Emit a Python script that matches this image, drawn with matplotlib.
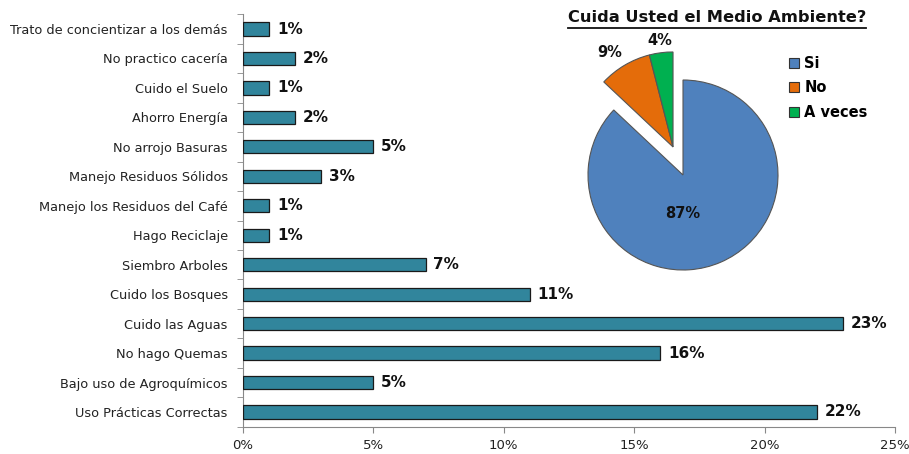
import matplotlib
matplotlib.use("Agg")
import matplotlib.pyplot as plt
import numpy as np
from matplotlib.lines import Line2D
from matplotlib.patches import Patch

categories = ["Trato de concientizar a los demás", "No practico cacería", "Cuido el Suelo",
              "Ahorro Energía", "No arrojo Basuras", "Manejo Residuos Sólidos",
              "Manejo los Residuos del Café", "Hago Reciclaje", "Siembro Arboles",
              "Cuido los Bosques", "Cuido las Aguas", "No hago Quemas",
              "Bajo uso de Agroquímicos", "Uso Prácticas Correctas"]
values = [1, 2, 1, 2, 5, 3, 1, 1, 7, 11, 23, 16, 5, 22]
xticks = [0, 5, 10, 15, 20, 25]

pie_title = "Cuida Usted el Medio Ambiente?"
pie_labels = ["Si", "No", "A veces"]
pie_values = [87, 9, 4]
pie_colors = ["#4F81BD", "#E46C0A", "#00B050"]

plt.rcParams['font.family'] = ['DejaVu Sans']
W, H = 909, 454
fig = plt.figure(figsize=(W/100, H/100), dpi=100)

# ---- bar chart ----
ax = fig.add_axes([243/W, 1-426.7/H, (895-243)/W, (426.7-14.3)/H])
n = len(categories)
y = np.arange(n)
ax.barh(y, values, height=0.45, color="#31859C", edgecolor="#1a1a1a", linewidth=0.9, zorder=3)
ax.set_ylim(n-0.5, -0.5)
ax.set_xlim(0, 25)
ax.set_yticks(y)
ax.set_yticklabels(categories, fontsize=9.3, color="#222222")
ax.set_yticks(np.arange(-0.5, n, 1), minor=True)
ax.tick_params(axis='y', which='major', length=0, pad=11)
ax.tick_params(axis='y', which='minor', length=4, color="#888888", direction='out')
ax.set_xticks(xticks)
ax.set_xticklabels([f"{t}%" for t in xticks], fontsize=9.5, color="#222222")
ax.tick_params(axis='x', length=4, color="#888888", direction='out', pad=5)
for s in ["top", "right"]:
    ax.spines[s].set_visible(False)
for s in ["left", "bottom"]:
    ax.spines[s].set_color("#888888")
for yi, v in zip(y, values):
    ax.text(v + 0.3, yi, f"{v}%", va="center", ha="left", fontsize=11, fontweight="bold", color="#111111")

# ---- pie chart ----
R = 95.0
cx, cy = 683, 175
half = 150
pax = fig.add_axes([(cx-half)/W, 1-(cy+half)/H, 2*half/W, 2*half/H])
wedges, _ = pax.pie(pie_values, colors=pie_colors, startangle=90, counterclock=False,
                    radius=1, wedgeprops=dict(edgecolor="#555555", linewidth=0.8))
lim = half / R
pax.set_xlim(-lim, lim)
pax.set_ylim(-lim, lim)
pax.axis('off')
off = np.array([-0.105, 0.295])
for w in wedges[1:]:
    w.set_center(tuple(off))
label_dist = [None, 1.2, 1.13]
for i, (w, v) in enumerate(zip(wedges, pie_values)):
    if i == 0:
        pax.text(0, -0.4, f"{v}%", ha="center", va="center", fontsize=10.5, fontweight="bold", color="#111111")
    else:
        mid = np.deg2rad((w.theta1 + w.theta2) / 2 + (3 if i == 1 else 0))
        px = off[0] + label_dist[i]*np.cos(mid)
        py = off[1] + label_dist[i]*np.sin(mid)
        pax.text(px, py, f"{v}%", ha="center", va="center", fontsize=10.5, fontweight="bold", color="#111111")

handles = [Patch(facecolor=c, edgecolor="#333333", linewidth=0.8) for c in pie_colors]
fig.legend(handles, pie_labels, loc="upper left", bbox_to_anchor=(789/W, 1-56/H), frameon=False,
           prop=dict(size=10.5, weight="bold"), handlelength=0.7, handleheight=0.7,
           handletextpad=0.35, labelspacing=0.65, borderaxespad=0, borderpad=0)

t = fig.text(717/W, 1-18/H, pie_title, ha="center", va="center", fontsize=11.7, fontweight="bold", color="#111111")
fig.canvas.draw()
bb = t.get_window_extent()
yl = bb.y0 - 2
fig.add_artist(Line2D([bb.x0/W, bb.x1/W], [yl/H, yl/H], color="#111111", linewidth=1.3, transform=fig.transFigure))

fig.savefig("out.png", dpi=100)
